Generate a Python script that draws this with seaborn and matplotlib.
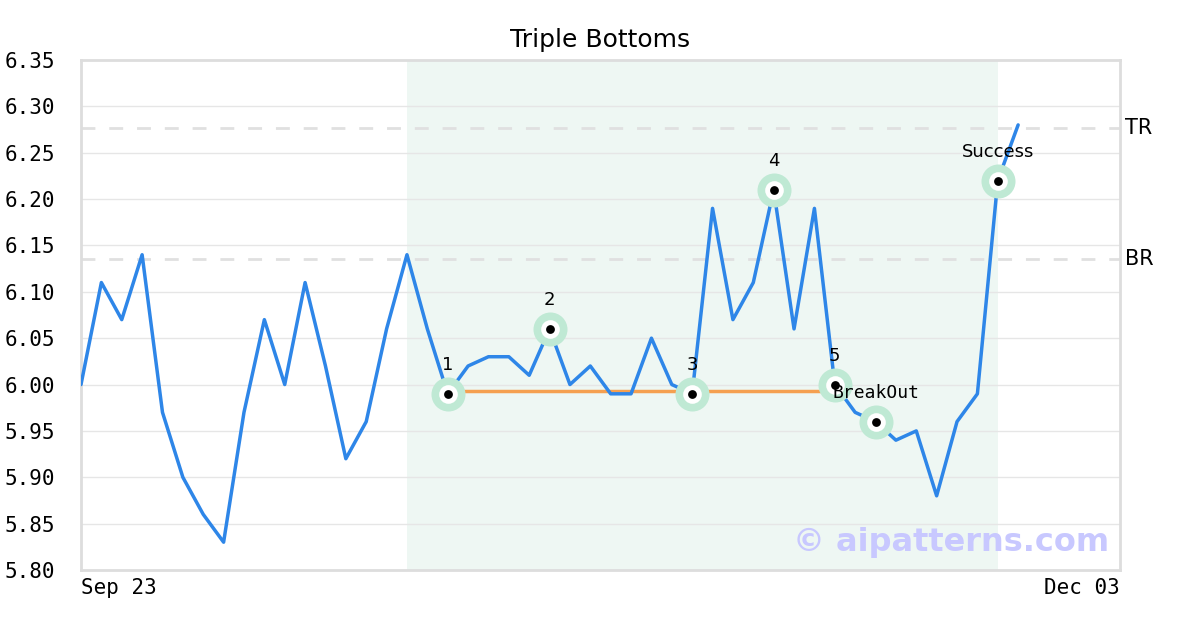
import matplotlib
matplotlib.use("Agg")
import matplotlib.pyplot as plt
import seaborn as sns
import pandas as pd
import numpy as np

title = "Triple Bottoms"
prices = [6.00, 6.11, 6.07, 6.14, 5.97, 5.90, 5.86, 5.83, 5.97, 6.07,
          6.00, 6.11, 6.02, 5.92, 5.96, 6.06, 6.14, 6.06, 5.99, 6.02,
          6.03, 6.03, 6.01, 6.06, 6.00, 6.02, 5.99, 5.99, 6.05, 6.00,
          5.99, 6.19, 6.07, 6.11, 6.21, 6.06, 6.19, 6.00, 5.97, 5.96,
          5.94, 5.95, 5.88, 5.96, 5.99, 6.22, 6.28]
x_labels = ["Sep 23", "Dec 03"]
y_ticks = [5.80, 5.85, 5.90, 5.95, 6.00, 6.05, 6.10, 6.15, 6.20, 6.25, 6.30, 6.35]
pattern_start, pattern_end = 16, 45
support_level = 5.993
support_start, support_end = 18, 37
tr_level, br_level = 6.277, 6.135
point_idx = [18, 23, 30, 34, 37, 39, 45]
point_labels = ["1", "2", "3", "4", "5", "BreakOut", "Success"]
x_max = 51

df = pd.DataFrame({"idx": np.arange(len(prices)), "price": prices})

sns.set_style("white")
plt.rcParams['font.family'] = ['DejaVu Sans']
plt.rcParams['text.color'] = 'black'
plt.rcParams['xtick.color'] = 'black'
plt.rcParams['ytick.color'] = 'black'

fig = plt.figure(figsize=(12, 6.3), dpi=100)
ax = fig.add_axes([81/1200, 60/630, 1039/1200, 510/630])

ax.axvspan(pattern_start, pattern_end, color="#eef7f3", zorder=0, lw=0)
for yt in y_ticks:
    ax.axhline(yt, color="#e6e6e6", lw=1, zorder=0.5)
ax.axhline(tr_level, color="#e0e0e0", lw=2, ls=(0, (5, 5)), zorder=1)
ax.axhline(br_level, color="#e0e0e0", lw=2, ls=(0, (5, 5)), zorder=1)

sns.lineplot(data=df, x="idx", y="price", ax=ax, color="#2e86e8", lw=2.5, zorder=3)
ax.plot([support_start, support_end], [support_level, support_level],
        color="#f5a050", lw=2.5, zorder=2.5)

px = [df.price[i] for i in point_idx]
ax.scatter(point_idx, px, s=600, color="#bfe9d4", zorder=4, lw=0)
ax.scatter(point_idx, px, s=180, color="white", zorder=5, lw=0)
ax.scatter(point_idx, px, s=40, color="black", zorder=6, lw=0)

for i, lab in zip(point_idx, point_labels):
    fam = "DejaVu Sans Mono" if lab == "BreakOut" else "DejaVu Sans"
    ax.annotate(lab, (i, df.price[i]), xytext=(0, 29), textcoords="offset pixels",
                ha="center", va="center", fontsize=13, family=fam, zorder=7,
                color="black")

ax.text(1.005, (tr_level - 5.80) / 0.55, "TR", transform=ax.transAxes,
        ha="left", va="center", fontsize=15, color="black")
ax.text(1.005, (br_level - 5.80) / 0.55, "BR", transform=ax.transAxes,
        ha="left", va="center", fontsize=15, color="black")

ax.text(0.99, 0.053, "© aipatterns.com", transform=ax.transAxes, ha="right",
        va="center", fontsize=23, fontweight="bold", color="#c8c8ff", zorder=8)

ax.set_xlim(0, x_max)
ax.set_ylim(5.80, 6.35)
ax.set_yticks(y_ticks)
ax.set_yticklabels([f"{v:.2f}" for v in y_ticks], family="DejaVu Sans Mono", fontsize=15)
ax.set_xticks([0, x_max])
ax.set_xticklabels(x_labels, family="DejaVu Sans Mono", fontsize=15)
xl = ax.get_xticklabels()
xl[0].set_ha("left")
xl[1].set_ha("right")
ax.tick_params(axis="x", length=0, pad=6, colors="black")
ax.tick_params(axis="y", length=0, pad=18.5, colors="black")
ax.set_xlabel("")
ax.set_ylabel("")
for s in ax.spines.values():
    s.set_color("#dddddd")
    s.set_linewidth(2)
ax.set_title(title, fontsize=18, pad=9, color="black")

fig.savefig("out.png", dpi=100)
